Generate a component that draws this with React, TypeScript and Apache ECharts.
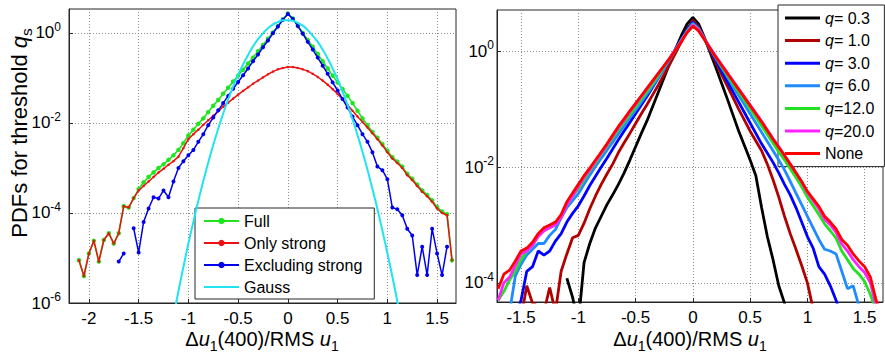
import React, { useEffect, useRef } from "react";
import * as echarts from "echarts";

// ---------- data (log10 of PDF values) ----------
const leftX = [
  -2.1, -2.05, -2.0, -1.95, -1.9, -1.85, -1.8, -1.75, -1.7, -1.65, -1.6, -1.55, -1.5, -1.45, -1.4, -1.35,
  -1.3, -1.25, -1.2, -1.15, -1.1, -1.05, -1.0, -0.95, -0.9, -0.85, -0.8, -0.75, -0.7, -0.65, -0.6, -0.55,
  -0.5, -0.45, -0.4, -0.35, -0.3, -0.25, -0.2, -0.15, -0.1, -0.05, 0.0, 0.05, 0.1, 0.15, 0.2, 0.25,
  0.3, 0.35, 0.4, 0.45, 0.5, 0.55, 0.6, 0.65, 0.7, 0.75, 0.8, 0.85, 0.9, 0.95, 1.0, 1.05,
  1.1, 1.15, 1.2, 1.25, 1.3, 1.35, 1.4, 1.45, 1.5, 1.55, 1.6, 1.65,
];
const fullLogPdf = [
  -5.05, -5.4, -4.9, -4.62, -5.08, -4.6, -4.45, -4.68, -4.45, -3.85, -3.88, -3.67, -3.47, -3.32, -3.2, -3.1,
  -3.0, -2.92, -2.82, -2.72, -2.6, -2.45, -2.28, -2.15, -2.02, -1.9, -1.76, -1.62, -1.49, -1.35, -1.22, -1.08,
  -0.95, -0.82, -0.68, -0.55, -0.41, -0.27, -0.13, 0.01, 0.15, 0.3, 0.43, 0.32, 0.16, 0.0, -0.16, -0.31,
  -0.47, -0.63, -0.79, -0.95, -1.1, -1.25, -1.4, -1.56, -1.73, -1.9, -2.05, -2.2, -2.33, -2.47, -2.62, -2.76,
  -2.86, -2.97, -3.13, -3.24, -3.37, -3.5, -3.6, -3.72, -3.87, -3.97, -4.03, -5.05,
];
const onlyStrongLogPdf = [
  -5.05, -5.4, -4.9, -4.62, -5.08, -4.6, -4.45, -4.68, -4.45, -3.85, -3.88, -3.67, -3.5, -3.4, -3.3, -3.2,
  -3.1, -3.02, -2.93, -2.85, -2.75, -2.56, -2.36, -2.25, -2.15, -2.04, -1.94, -1.84, -1.74, -1.64, -1.55, -1.46,
  -1.37, -1.29, -1.21, -1.13, -1.06, -0.99, -0.92, -0.86, -0.81, -0.78, -0.76, -0.76, -0.78, -0.81, -0.85, -0.91,
  -0.98, -1.06, -1.15, -1.25, -1.36, -1.48, -1.6, -1.73, -1.86, -1.98, -2.1, -2.23, -2.36, -2.5, -2.65, -2.79,
  -2.89, -3.0, -3.16, -3.27, -3.4, -3.53, -3.63, -3.75, -3.9, -4.0, -4.05, -5.05,
];
const excludingLogPdf = [
  null, null, null, null, null, null, null, null, -5.08, -4.9, null, -4.34, -4.88, -4.2, -3.9, -3.65,
  -3.68, -3.5, -3.65, -3.3, -3.0, -2.85, -2.72, -2.6, -2.42, -2.25, -2.05, -1.88, -1.72, -1.56, -1.4, -1.24,
  -1.09, -0.94, -0.79, -0.63, -0.48, -0.32, -0.17, -0.01, 0.14, 0.29, 0.42, 0.31, 0.15, -0.02, -0.2, -0.37,
  -0.55, -0.73, -0.91, -1.1, -1.28, -1.47, -1.66, -1.86, -2.05, -2.25, -2.42, -2.65, -2.97, -3.05, -3.25, -3.88,
  -3.92, -4.05, -4.35, -4.5, -5.38, -4.75, -5.38, -4.35, -4.9, -5.38, -4.75, null,
];
const gaussX = [
  -1.15, -1.1, -1.05, -1.0, -0.95, -0.9, -0.85, -0.8, -0.75, -0.7, -0.65, -0.6, -0.55, -0.5, -0.45, -0.4,
  -0.35, -0.3, -0.25, -0.2, -0.15, -0.1, -0.05, 0.0, 0.05, 0.1, 0.15, 0.2, 0.25, 0.3, 0.35, 0.4,
  0.45, 0.5, 0.55, 0.6, 0.65, 0.7, 0.75, 0.8, 0.85, 0.9, 0.95, 1.0, 1.05, 1.1, 1.15,
];
const gaussLogPdf = [
  -6.3, -5.74, -5.2, -4.68, -4.2, -3.73, -3.29, -2.88, -2.49, -2.13, -1.79, -1.48, -1.19, -0.93, -0.7, -0.49,
  -0.3, -0.14, -0.01, 0.1, 0.19, 0.24, 0.28, 0.28, 0.27, 0.22, 0.16, 0.06, -0.06, -0.2, -0.37, -0.57,
  -0.79, -1.03, -1.31, -1.6, -1.92, -2.27, -2.64, -3.04, -3.47, -3.91, -4.39, -4.89, -5.41, -5.96, -6.54,
];

const rightX = [
  -1.7, -1.65, -1.6, -1.55, -1.5, -1.45, -1.4, -1.35, -1.3, -1.25, -1.2, -1.15, -1.1, -1.05, -1.0, -0.95,
  -0.9, -0.85, -0.8, -0.75, -0.7, -0.65, -0.6, -0.55, -0.5, -0.45, -0.4, -0.35, -0.3, -0.25, -0.2, -0.15,
  -0.1, -0.05, 0.0, 0.05, 0.1, 0.15, 0.2, 0.25, 0.3, 0.35, 0.4, 0.45, 0.5, 0.55, 0.6, 0.65,
  0.7, 0.75, 0.8, 0.85, 0.9, 0.95, 1.0, 1.05, 1.1, 1.15, 1.2, 1.25, 1.3, 1.35, 1.4, 1.45,
  1.5, 1.55, 1.6, 1.65,
];
const q03LogPdf = [
  null, null, null, null, null, null, null, null, null, null, null, null, -3.92, -4.25, -4.7, -3.65,
  -3.32, -3.05, -2.85, -2.65, -2.48, -2.3, -2.1, -1.88, -1.65, -1.42, -1.2, -0.95, -0.7, -0.45, -0.2, 0.04,
  0.27, 0.47, 0.58, 0.47, 0.24, -0.02, -0.28, -0.55, -0.82, -1.1, -1.38, -1.63, -1.88, -2.15, -2.7, -3.2,
  -3.6, -4.05, -4.35, -4.7, null, null, null, null, null, null, null, null, null, null, null, null,
  null, null, null, null,
];
const q10LogPdf = [
  null, null, null, -4.6, -4.6, -4.05, -4.35, -4.4, -4.5, -4.08, -4.5, -3.8, -3.5, -3.22, -3.18, -2.97,
  -2.72, -2.5, -2.3, -2.12, -1.95, -1.75, -1.58, -1.42, -1.25, -1.08, -0.92, -0.75, -0.58, -0.4, -0.22, -0.03,
  0.17, 0.38, 0.53, 0.42, 0.22, 0.01, -0.2, -0.4, -0.6, -0.8, -1.0, -1.19, -1.38, -1.55, -1.72, -1.95,
  -2.22, -2.52, -2.85, -3.15, -3.42, -3.7, -4.0, -4.45, -4.75, null, null, null, null, null, null, null,
  null, null, null, null,
];
const q30LogPdf = [
  -5.0, -5.0, -4.9, -4.6, -4.3, -3.8, -3.72, -3.45, -3.52, -3.45, -3.28, -3.15, -2.95, -2.8, -2.67, -2.5,
  -2.32, -2.16, -2.0, -1.85, -1.69, -1.53, -1.38, -1.23, -1.08, -0.93, -0.78, -0.62, -0.46, -0.3, -0.13, 0.04,
  0.21, 0.37, 0.5, 0.4, 0.22, 0.03, -0.16, -0.34, -0.52, -0.7, -0.88, -1.06, -1.24, -1.42, -1.6, -1.76,
  -1.92, -2.1, -2.3, -2.48, -2.7, -2.95, -3.2, -3.4, -3.72, -3.85, -4.05, -4.3, -4.6, null, null, null,
  null, null, null, null,
];
const q60LogPdf = [
  -4.7, -4.7, -4.5, -3.88, -3.68, -3.52, -3.42, -3.32, -3.32, -3.18, -3.08, -2.88, -2.7, -2.58, -2.46, -2.3,
  -2.14, -1.99, -1.85, -1.71, -1.57, -1.43, -1.29, -1.15, -1.02, -0.88, -0.74, -0.6, -0.45, -0.3, -0.14, 0.02,
  0.19, 0.35, 0.48, 0.39, 0.22, 0.05, -0.12, -0.28, -0.44, -0.6, -0.76, -0.92, -1.08, -1.24, -1.4, -1.56,
  -1.72, -1.88, -2.05, -2.25, -2.45, -2.65, -2.85, -3.05, -3.25, -3.42, -3.45, -3.5, -3.8, -4.1, -4.05, -4.4,
  -4.7, null, null, null,
];
const q120LogPdf = [
  -4.3, -4.15, -3.95, -3.8, -3.6, -3.45, -3.35, -3.2, -3.1, -3.05, -3.0, -2.85, -2.65, -2.5, -2.38, -2.22,
  -2.07, -1.93, -1.78, -1.64, -1.5, -1.36, -1.23, -1.1, -0.97, -0.83, -0.7, -0.56, -0.42, -0.27, -0.12, 0.03,
  0.19, 0.34, 0.46, 0.38, 0.21, 0.05, -0.11, -0.26, -0.41, -0.56, -0.7, -0.85, -0.99, -1.14, -1.29, -1.44,
  -1.59, -1.74, -1.88, -2.03, -2.18, -2.34, -2.52, -2.67, -2.82, -2.98, -3.1, -3.23, -3.45, -3.6, -3.75, -3.85,
  -3.98, -4.2, -4.5, -4.7,
];
const q200LogPdf = [
  -4.3, -4.0, -3.9, -3.7, -3.5, -3.45, -3.35, -3.2, -3.1, -3.05, -3.0, -2.87, -2.65, -2.5, -2.34, -2.18,
  -2.05, -1.9, -1.76, -1.62, -1.47, -1.32, -1.19, -1.05, -0.92, -0.78, -0.65, -0.52, -0.38, -0.25, -0.11, 0.03,
  0.18, 0.33, 0.45, 0.37, 0.21, 0.06, -0.09, -0.23, -0.37, -0.51, -0.65, -0.79, -0.93, -1.07, -1.21, -1.36,
  -1.51, -1.65, -1.8, -1.95, -2.1, -2.26, -2.44, -2.58, -2.72, -2.9, -3.0, -3.13, -3.33, -3.45, -3.6, -3.72,
  -3.82, -4.0, -4.4, -4.7,
];
const noneLogPdf = [
  -4.1, -3.85, -3.78, -3.62, -3.45, -3.4, -3.3, -3.15, -3.05, -3.0, -2.95, -2.82, -2.6, -2.45, -2.3, -2.15,
  -2.02, -1.88, -1.74, -1.6, -1.45, -1.3, -1.17, -1.03, -0.9, -0.77, -0.64, -0.51, -0.38, -0.25, -0.12, 0.02,
  0.16, 0.32, 0.43, 0.35, 0.2, 0.05, -0.1, -0.24, -0.38, -0.52, -0.66, -0.8, -0.94, -1.08, -1.22, -1.37,
  -1.52, -1.66, -1.8, -1.95, -2.1, -2.25, -2.42, -2.55, -2.68, -2.85, -2.95, -3.07, -3.25, -3.35, -3.5, -3.62,
  -3.72, -3.9, -4.3, -4.6,
];

const leftXTicks = [-2, -1.5, -1, -0.5, 0, 0.5, 1, 1.5];
const rightXTicks = [-1.5, -1, -0.5, 0, 0.5, 1, 1.5];
const leftYTicks = [-6, -4, -2, 0];
const rightYTicks = [-4, -2, 0];

const leftNames = ["Full", "Only strong", "Excluding strong", "Gauss"];
const rightNames = ["q= 0.3", "q= 1.0", "q= 3.0", "q= 6.0", "q=12.0", "q=20.0", "None"];
const rightColors = ["#000000", "#b00000", "#0000ff", "#1e8cff", "#22e022", "#ff22ff", "#ff0000"];
const leftColors = ["#1ee61e", "#ee1111", "#0000ee", "#20e3f0"];

// ---------- styling ----------
const FONT = 'Arial, "Liberation Sans", Helvetica, sans-serif';
const FRAME = "#262626";
const THIN_LINE_ICON = "path://M0,0H35V2H0Z";
const THICK_LINE_ICON = "path://M0,0H35V3H0Z";

function pairs(xs: number[], ys: (number | null)[]) {
  return xs.map((x, i) => [x, ys[i] == null ? "-" : ys[i]]);
}

function yLabel(v: number) {
  return `{b|10}{s|${Math.round(v)}}`;
}

const tickRich = {
  b: { fontSize: 17, fontFamily: FONT, color: "#000" },
  s: { fontSize: 12, fontFamily: FONT, color: "#000", padding: [0, 0, 12, 0] },
};

function makeXAxis(gridIndex: number, min: number, max: number, ticks: number[]) {
  return {
    type: "value",
    gridIndex,
    min,
    max,
    axisLine: { show: true, onZero: false, lineStyle: { color: FRAME, width: 1 } },
    axisTick: { show: true, inside: true, length: 4, customValues: ticks, lineStyle: { color: FRAME } },
    axisLabel: {
      customValues: ticks,
      fontSize: 17,
      fontFamily: FONT,
      color: "#000",
      margin: 7,
      formatter: (v: number) => String(v),
    },
    splitLine: { show: true, lineStyle: { color: "#8c8c8c", type: [1, 2], width: 1 } },
  };
}

function makeYAxis(gridIndex: number, min: number, max: number, ticks: number[], margin: number) {
  return {
    type: "value",
    gridIndex,
    min,
    max,
    axisLine: { show: true, onZero: false, lineStyle: { color: FRAME, width: 1 } },
    axisTick: { show: true, inside: true, length: 4, customValues: ticks, lineStyle: { color: FRAME } },
    axisLabel: {
      customValues: ticks,
      margin,
      formatter: yLabel,
      rich: tickRich,
    },
    splitLine: { show: true, lineStyle: { color: "#8c8c8c", type: [1, 2], width: 1 } },
  };
}

function titleRich(size: number) {
  return {
    n: { fontSize: size, fontFamily: FONT, fill: "#000" },
    i: { fontSize: size, fontFamily: FONT, fontStyle: "italic", fill: "#000" },
    s: { fontSize: size * 0.7, fontFamily: FONT, fill: "#000", padding: [size * 0.7, 0, 0, 0] },
  };
}

export default function App() {
  const ref = useRef<HTMLDivElement>(null);

  useEffect(() => {
    if (!ref.current) return;
    const chart = echarts.init(ref.current, undefined, { renderer: "svg" });

    const leftSeries = [
      {
        name: leftNames[0],
        type: "line",
        xAxisIndex: 0,
        yAxisIndex: 0,
        data: pairs(leftX, fullLogPdf),
        symbol: "circle",
        symbolSize: 4.5,
        lineStyle: { width: 1.6, color: leftColors[0] },
        itemStyle: { color: leftColors[0] },
        z: 2,
      },
      {
        name: leftNames[1],
        type: "line",
        xAxisIndex: 0,
        yAxisIndex: 0,
        data: pairs(leftX, onlyStrongLogPdf),
        symbol: "circle",
        symbolSize: 2.5,
        lineStyle: { width: 1.5, color: leftColors[1] },
        itemStyle: { color: leftColors[1] },
        z: 3,
      },
      {
        name: leftNames[2],
        type: "line",
        xAxisIndex: 0,
        yAxisIndex: 0,
        data: pairs(leftX, excludingLogPdf),
        symbol: "circle",
        symbolSize: 4,
        lineStyle: { width: 1.5, color: leftColors[2] },
        itemStyle: { color: leftColors[2] },
        z: 4,
      },
      {
        name: leftNames[3],
        type: "line",
        xAxisIndex: 0,
        yAxisIndex: 0,
        data: pairs(gaussX, gaussLogPdf),
        symbol: "none",
        smooth: true,
        lineStyle: { width: 2, color: leftColors[3] },
        itemStyle: { color: leftColors[3] },
        z: 5,
      },
    ];

    const rightData = [q03LogPdf, q10LogPdf, q30LogPdf, q60LogPdf, q120LogPdf, q200LogPdf, noneLogPdf];
    const rightSeries = rightNames.map((name, k) => ({
      name,
      type: "line",
      xAxisIndex: 1,
      yAxisIndex: 1,
      data: pairs(rightX, rightData[k]),
      symbol: "none",
      lineStyle: { width: 2.8, color: rightColors[k] },
      itemStyle: { color: rightColors[k] },
      z: 2 + k,
    }));

    const option = {
      animation: false,
      backgroundColor: "#ffffff",
      grid: [
        { left: 69, top: 9, width: 387, height: 294, show: true, borderColor: FRAME, borderWidth: 1, backgroundColor: "transparent" },
        { left: 497, top: 10, width: 386, height: 292, show: true, borderColor: FRAME, borderWidth: 1, backgroundColor: "transparent" },
      ],
      xAxis: [makeXAxis(0, -2.2, 1.69, leftXTicks), makeXAxis(1, -1.71, 1.66, rightXTicks)],
      yAxis: [makeYAxis(0, -6, 0.53, leftYTicks, 8), makeYAxis(1, -4.33, 0.71, rightYTicks, 3)],
      legend: [
        {
          data: [
            { name: leftNames[0] },
            { name: leftNames[1] },
            { name: leftNames[2] },
            { name: leftNames[3], icon: THIN_LINE_ICON },
          ],
          orient: "vertical",
          left: 195,
          top: 208,
          itemWidth: 35,
          itemHeight: 8,
          itemGap: 6,
          padding: [5, 12, 4, 8],
          borderColor: FRAME,
          borderWidth: 1,
          backgroundColor: "#ffffff",
          selectedMode: false,
          textStyle: { fontSize: 16, fontFamily: FONT, color: "#000" },
        },
        {
          data: rightNames.map((name) => ({ name, icon: THICK_LINE_ICON })),
          orient: "vertical",
          left: 778,
          top: 5,
          itemWidth: 35,
          itemHeight: 8,
          itemGap: 6.6,
          padding: [5, 10, 5, 7],
          borderColor: FRAME,
          borderWidth: 1,
          backgroundColor: "#ffffff",
          selectedMode: false,
          formatter: (name: string) =>
            name.startsWith("q") ? `{i|q}{n|${name.slice(1)}}` : `{n|${name}}`,
          textStyle: {
            fontSize: 16,
            fontFamily: FONT,
            color: "#000",
            rich: {
              i: { fontSize: 16, fontFamily: FONT, fontStyle: "italic", color: "#000" },
              n: { fontSize: 16, fontFamily: FONT, color: "#000" },
            },
          },
        },
      ],
      graphic: [
        {
          type: "text",
          x: 262,
          y: 339,
          style: {
            text: "{n|\u0394}{i|u}{s|1}{n|(400)/RMS }{i|u}{s|1}",
            rich: titleRich(20),
            align: "center",
            verticalAlign: "middle",
          },
        },
        {
          type: "text",
          x: 690,
          y: 339,
          style: {
            text: "{n|\u0394}{i|u}{s|1}{n|(400)/RMS }{i|u}{s|1}",
            rich: titleRich(20),
            align: "center",
            verticalAlign: "middle",
          },
        },
        {
          type: "text",
          x: 19,
          y: 133,
          rotation: Math.PI / 2,
          style: {
            text: "{n|PDFs for threshold }{i|q}{s|s}",
            rich: titleRich(22),
            align: "center",
            verticalAlign: "middle",
          },
        },
      ],
      series: [...leftSeries, ...rightSeries],
    };

    chart.setOption(option as any);
    return () => chart.dispose();
  }, []);

  return (
    <div
      ref={ref}
      style={{ position: "absolute", left: 0, top: 0, width: 885, height: 357, background: "#fff" }}
    />
  );
}
